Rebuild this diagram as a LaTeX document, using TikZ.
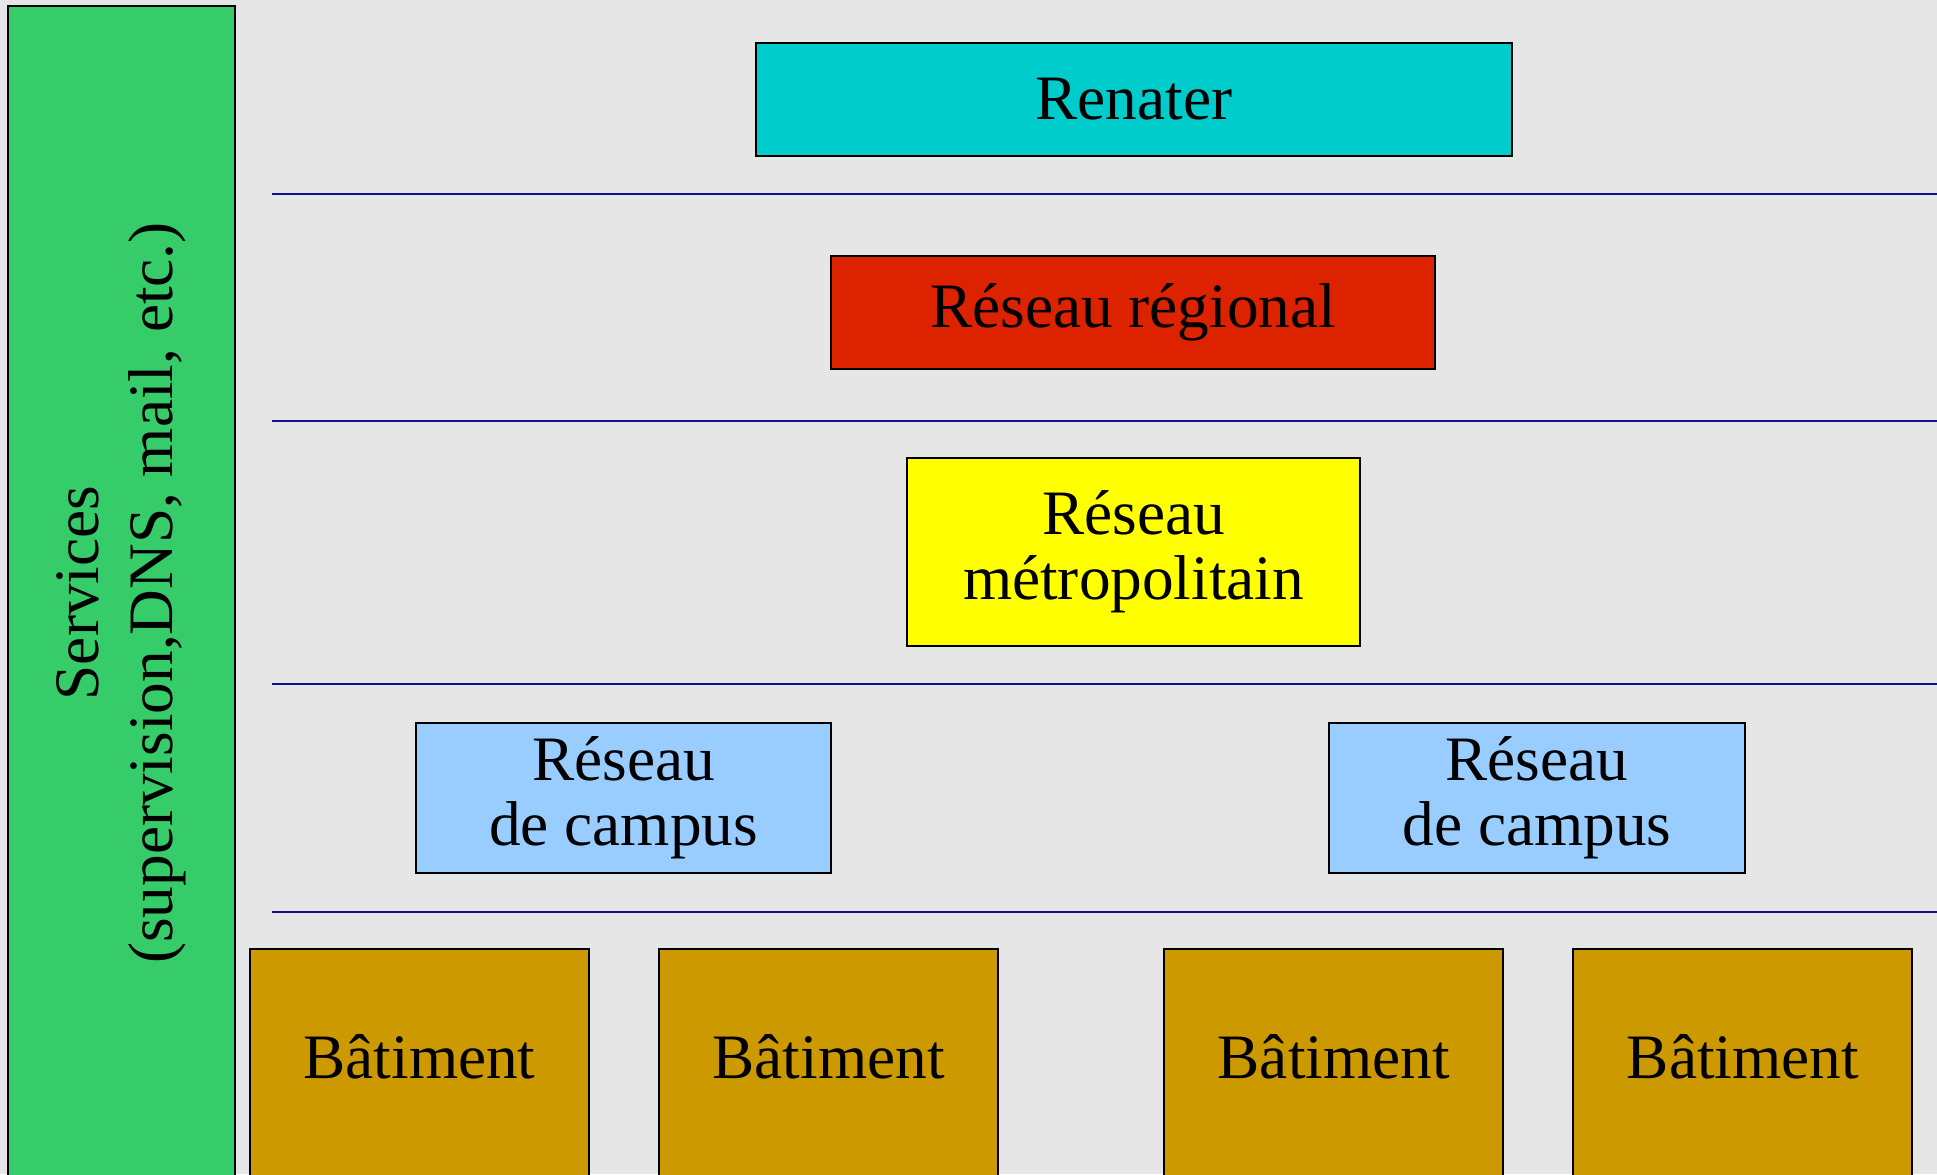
\documentclass[tikz,border=0pt]{standalone}
\usepackage{fontspec}
\setmainfont{Liberation Serif}
\usepackage{tikz}
\usetikzlibrary{positioning}
\usepackage{xcolor}
\definecolor{bggray}{HTML}{E6E6E6}
\definecolor{srvgreen}{HTML}{36CC6A}
\definecolor{rencyan}{HTML}{00CCCC}
\definecolor{regred}{HTML}{DD2200}
\definecolor{metyellow}{HTML}{FFFF00}
\definecolor{campblue}{HTML}{99CCFF}
\definecolor{batgold}{HTML}{CC9900}
\definecolor{sepblue}{HTML}{10108A}

\begin{document}
\begin{tikzpicture}
	\tikzstyle{every node}=[align=center, draw, rectangle, line width=0.6pt, inner sep=0pt,
	  font=\fontsize{18}{18.5}\selectfont]
	\tikzstyle{sep}=[sepblue, line width=0.6pt]
	\tikzstyle{batbox}=[fill=batgold, minimum width=3.39cm, minimum height=2.4cm, text height=0.5cm, text depth=0.32cm]
  \clip (0,0) rectangle (19.37,-11.74);
  \fill [bggray] (0,0) rectangle (19.37,-11.74);
  % \draw [step=1.0,blue, very thick] (0,0) grid (19,-11);
  \node [fill=srvgreen, rotate=90, minimum width=11.74cm, minimum height=2.27cm,
    font=\fontsize{18}{21}\selectfont] (srv) at (1.215,-5.93) {Services\\(supervision,DNS, mail, etc.)};
  \node [fill=rencyan, minimum width=7.56cm, minimum height=1.13cm] (ren) at (11.34,-0.995) {Renater};
  \node [fill=regred, minimum width=6.04cm, minimum height=1.13cm] (reg) at (11.33,-3.125) {Réseau régional};
  \node [fill=metyellow, minimum width=4.53cm, minimum height=1.88cm] (met) at (11.335,-5.52) {Réseau\\métropolitain};
  \node [fill=campblue, minimum width=4.15cm, minimum height=1.5cm] (cmp1) at (6.235,-7.98) {Réseau\\de campus};
  \node [fill=campblue, minimum width=4.16cm, minimum height=1.5cm] (cmp2) at (15.37,-7.98) {Réseau\\de campus};
  \node [batbox] (bat1) at (4.195,-10.69) {Bâtiment};
  \node [batbox, right = 0.68cm of bat1] (bat2) {Bâtiment};
  \node [batbox, right = 1.64cm of bat2] (bat3) {Bâtiment};
  \node [batbox, right = 0.68cm of bat3] (bat4) {Bâtiment};

  \draw [sep] (2.72,-1.94) -- (19.37,-1.94);
  \draw [sep] (2.72,-4.21) -- (19.37,-4.21);
  \draw [sep] (2.72,-6.84) -- (19.37,-6.84);
  \draw [sep] (2.72,-9.12) -- (19.37,-9.12);
	\end{tikzpicture}
\end{document}
